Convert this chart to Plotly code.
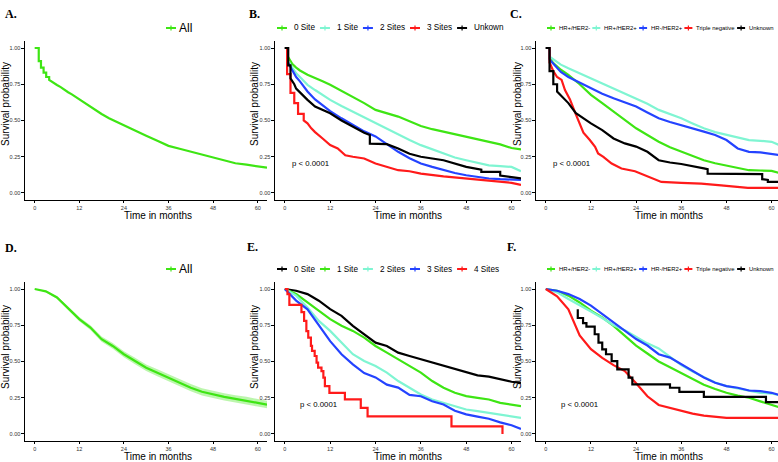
import plotly.graph_objects as go
from plotly.subplots import make_subplots

W, H = 778, 462

GREEN = "#3ee514"
CYAN = "#7ff5d2"
BLUE = "#2443ff"
RED = "#ff1a1a"
BLACK = "#000000"

# ---- A: all patients (cohort 1)
a_month = [0, 1.1, 1.1, 1.7, 1.7, 2.4, 2.4, 3.1, 3.1, 3.9, 3.9, 5, 6, 7, 8, 9, 10,
           12, 14, 16, 18, 20, 22, 24, 27, 30, 33, 36, 39, 42, 45, 48, 51, 54, 57, 60, 62.5]
a_surv = [1, 1, 0.91, 0.91, 0.865, 0.865, 0.83, 0.83, 0.80, 0.80, 0.78, 0.76, 0.745, 0.73, 0.71, 0.695, 0.68,
          0.645, 0.61, 0.575, 0.545, 0.515, 0.49, 0.465, 0.43, 0.395, 0.36, 0.325, 0.305, 0.285, 0.265,
          0.245, 0.225, 0.205, 0.195, 0.185, 0.175]

# ---- B: number of metastatic sites (cohort 1)
b_month = [0, 0.6, 0.6, 1, 2, 3, 4, 6, 8, 10, 12, 15, 18, 21, 24, 27, 30, 33, 36, 39, 42, 45, 48, 51, 54, 57, 60, 62.5]
b_site0 = [1, 1, 0.95, 0.935, 0.89, 0.865, 0.845, 0.815, 0.79, 0.77, 0.746, 0.705, 0.665, 0.62, 0.573, 0.55,
           0.527, 0.495, 0.462, 0.44, 0.423, 0.405, 0.388, 0.37, 0.353, 0.335, 0.31, 0.30]
b_site1 = [1, 1, 0.92, 0.905, 0.86, 0.825, 0.80, 0.746, 0.71, 0.675, 0.642, 0.60, 0.561, 0.52, 0.48, 0.44,
           0.40, 0.365, 0.33, 0.30, 0.27, 0.245, 0.226, 0.21, 0.19, 0.185, 0.18, 0.15]
b_site2 = [1, 1, 0.91, 0.89, 0.84, 0.80, 0.77, 0.70, 0.645, 0.605, 0.565, 0.515, 0.469, 0.425, 0.39, 0.335,
           0.284, 0.24, 0.203, 0.18, 0.157, 0.138, 0.122, 0.11, 0.10, 0.095, 0.092, 0.09]
b_site3_month = [0, 0.6, 0.6, 1.5, 1.5, 2.5, 2.5, 3.5, 3.5, 5, 5, 6, 7, 8, 10, 12, 14, 16, 18, 21, 24, 27,
                 30, 33, 36, 42, 48, 54, 57, 60, 62.5]
b_site3 = [1, 1, 0.82, 0.82, 0.69, 0.69, 0.62, 0.62, 0.545, 0.545, 0.50, 0.48, 0.446, 0.42, 0.376, 0.33,
           0.307, 0.26, 0.25, 0.238, 0.203, 0.18, 0.157, 0.15, 0.134, 0.115, 0.10, 0.088, 0.08, 0.07, 0.055]
b_unk_month = [0, 0.9, 0.9, 1.5, 1.5, 2.5, 3, 5, 6, 8, 10, 12, 15, 18, 21, 22.5, 22.5, 27, 30, 33, 36, 42,
               48, 52, 52, 57, 57, 62.5]
b_unk = [1, 1, 0.88, 0.88, 0.79, 0.75, 0.72, 0.665, 0.642, 0.596, 0.575, 0.55, 0.50, 0.457, 0.415, 0.40,
         0.34, 0.337, 0.307, 0.27, 0.25, 0.226, 0.18, 0.16, 0.145, 0.145, 0.12, 0.10]

# ---- C: molecular subtype (cohort 1)
c_month = [0, 1, 1, 2, 4, 6, 9, 12, 15, 18, 21, 24, 27, 30, 33, 36, 39, 42, 45, 48, 51, 54, 57, 60, 62.5]
c_hrp_her2n = [1, 1, 0.93, 0.896, 0.85, 0.815, 0.75, 0.677, 0.62, 0.561, 0.50, 0.446, 0.40, 0.353, 0.315,
               0.284, 0.255, 0.226, 0.205, 0.19, 0.175, 0.157, 0.155, 0.152, 0.134]
c_hrp_her2p = [1, 1, 0.94, 0.92, 0.885, 0.86, 0.825, 0.79, 0.755, 0.72, 0.69, 0.653, 0.615, 0.573, 0.545,
               0.515, 0.48, 0.446, 0.42, 0.40, 0.38, 0.365, 0.36, 0.353, 0.326]
c_hrn_her2p = [1, 1, 0.92, 0.89, 0.835, 0.80, 0.76, 0.72, 0.685, 0.653, 0.625, 0.596, 0.555, 0.515, 0.49,
               0.469, 0.445, 0.423, 0.40, 0.365, 0.307, 0.284, 0.28, 0.272, 0.26]
c_tn_month = [0, 1, 1, 2, 3, 4.2, 5.1, 6.4, 7.8, 9.1, 10, 11.7, 13.1, 13.9, 15.3, 17.5, 20.1, 23.7, 27.2,
              30.7, 36, 41.3, 46.6, 53.7, 62.5]
c_tn = [1, 1, 0.90, 0.84, 0.80, 0.78, 0.71, 0.647, 0.554, 0.473, 0.416, 0.365, 0.319, 0.273, 0.249, 0.203,
        0.169, 0.15, 0.111, 0.076, 0.069, 0.065, 0.053, 0.035, 0.035]
c_unk_month = [0, 1, 1, 2, 2, 3, 3, 5, 6, 8, 10, 12, 15, 18, 21, 24, 27, 30, 33, 36, 42, 43, 43, 57.5, 57.5,
               59, 59, 62.5]
c_unk = [1, 1, 0.84, 0.84, 0.75, 0.75, 0.70, 0.642, 0.62, 0.55, 0.515, 0.48, 0.434, 0.376, 0.342, 0.32,
         0.284, 0.226, 0.21, 0.20, 0.17, 0.165, 0.134, 0.13, 0.095, 0.09, 0.076, 0.076]

# ---- D: all patients (cohort 2), with 95% CI
d_month = [0, 3, 6, 9, 12, 15, 18, 21, 24, 27, 30, 33, 36, 39, 42, 45, 48, 51, 54, 57, 60, 62.5]
d_surv = [1.0, 0.984, 0.942, 0.868, 0.792, 0.734, 0.654, 0.607, 0.55, 0.503, 0.457, 0.423, 0.388, 0.353,
          0.319, 0.291, 0.272, 0.256, 0.242, 0.231, 0.215, 0.203]
d_lo = [1.0, 0.978, 0.932, 0.855, 0.778, 0.718, 0.636, 0.587, 0.530, 0.481, 0.434, 0.399, 0.364, 0.328,
        0.294, 0.266, 0.247, 0.231, 0.217, 0.205, 0.189, 0.177]
d_hi = [1.0, 0.99, 0.952, 0.881, 0.806, 0.75, 0.672, 0.627, 0.57, 0.525, 0.48, 0.447, 0.412, 0.378, 0.344,
        0.316, 0.297, 0.281, 0.267, 0.257, 0.241, 0.229]

# ---- E: number of metastatic sites (cohort 2)
e_month = [0, 3, 6, 9, 12, 15, 18, 21, 24, 27, 30, 33, 36, 39, 42, 45, 48, 51, 54, 57, 60, 62.5]
e_site0 = [1, 0.988, 0.965, 0.919, 0.861, 0.815, 0.746, 0.688, 0.63, 0.607, 0.561, 0.538, 0.515, 0.492,
           0.469, 0.446, 0.423, 0.404, 0.395, 0.376, 0.36, 0.353]
e_site1 = [1, 0.965, 0.907, 0.85, 0.792, 0.746, 0.711, 0.665, 0.607, 0.561, 0.515, 0.469, 0.423, 0.365,
           0.319, 0.284, 0.261, 0.249, 0.238, 0.215, 0.203, 0.192]
e_site2 = [1, 0.954, 0.873, 0.78, 0.711, 0.63, 0.55, 0.503, 0.469, 0.423, 0.365, 0.319, 0.272, 0.238,
           0.215, 0.192, 0.169, 0.157, 0.145, 0.134, 0.122, 0.111]
e_site3 = [1, 0.92, 0.86, 0.746, 0.64, 0.55, 0.48, 0.42, 0.39, 0.34, 0.32, 0.27, 0.26, 0.226, 0.203, 0.16,
           0.135, 0.12, 0.105, 0.08, 0.06, 0.035]
e_site4_month = [0, 0.7, 1.2, 4.4, 5.1, 5.7, 6.2, 6.9, 7.2, 7.9, 8.4, 8.8, 9.7, 10.2, 10.6, 11.8, 15.9,
                 20.1, 21.9, 44.1, 57.6]
e_site4 = [1, 0.965, 0.89, 0.84, 0.78, 0.71, 0.665, 0.607, 0.573, 0.538, 0.492, 0.457, 0.434, 0.388, 0.33,
           0.284, 0.238, 0.18, 0.122, 0.053, 0.0]

# ---- F: molecular subtype (cohort 2)
f_month = [0, 3, 6, 9, 12, 15, 18, 21, 24, 27, 30, 33, 36, 39, 42, 45, 48, 51, 54, 57, 60, 62.5]
f_hrp_her2n = [1, 0.988, 0.954, 0.907, 0.85, 0.804, 0.746, 0.68, 0.61, 0.555, 0.50, 0.46, 0.42, 0.38,
               0.34, 0.31, 0.284, 0.265, 0.25, 0.225, 0.20, 0.18]
f_hrp_her2p = [1, 0.977, 0.931, 0.885, 0.845, 0.80, 0.75, 0.715, 0.67, 0.625, 0.59, 0.53, 0.475, 0.43,
               0.39, 0.355, 0.33, 0.314, 0.296, 0.284, 0.279, 0.266]
f_hrn_her2p = [1, 0.988, 0.965, 0.931, 0.885, 0.827, 0.769, 0.711, 0.655, 0.61, 0.55, 0.527, 0.48, 0.434,
               0.39, 0.353, 0.33, 0.319, 0.30, 0.296, 0.284, 0.266]
f_tn = [1, 0.95, 0.86, 0.68, 0.585, 0.525, 0.475, 0.434, 0.35, 0.26, 0.20, 0.18, 0.157, 0.14, 0.127, 0.118,
        0.111, 0.111, 0.111, 0.111, 0.111, 0.111]
f_unk_month = [8.5, 8.5, 9.9, 10.8, 13, 14, 15, 16, 17.5, 19, 22, 23, 33, 35.5, 42, 58.5, 62.5]
f_unk = [0.86, 0.80, 0.765, 0.74, 0.688, 0.63, 0.584, 0.55, 0.503, 0.446, 0.388, 0.342, 0.319, 0.291,
         0.256, 0.22, 0.22]

x_ticks = [0, 12, 24, 36, 48, 60]
y_ticks = [0, 0.25, 0.5, 0.75, 1.0]
y_ticktext = ["0.00", "0.25", "0.50", "0.75", "1.00"]
panel_letters = ["A.", "B.", "C.", "D.", "E.", "F."]
p_text = "p < 0.0001"

sites_b = ["0 Site", "1 Site", "2 Sites", "3 Sites", "Unkown"]
sites_e = ["0 Site", "1 Site", "2 Sites", "3 Sites", "4 Sites"]
subtypes = ["HR+/HER2-", "HR+/HER2+", "HR-/HER2+", "Triple negative", "Unknown"]

panels = [
    dict(curves=[(a_month, a_surv, GREEN, "linear")], names=["All"], colors=[GREEN], pval=None),
    dict(curves=[(b_month, b_site0, GREEN, "linear"), (b_month, b_site1, CYAN, "linear"),
                 (b_month, b_site2, BLUE, "linear"), (b_site3_month, b_site3, RED, "linear"),
                 (b_unk_month, b_unk, BLACK, "linear")],
         names=sites_b, colors=[GREEN, CYAN, BLUE, RED, BLACK], pval=1.5),
    dict(curves=[(c_month, c_hrp_her2n, GREEN, "linear"), (c_month, c_hrp_her2p, CYAN, "linear"),
                 (c_month, c_hrn_her2p, BLUE, "linear"), (c_tn_month, c_tn, RED, "linear"),
                 (c_unk_month, c_unk, BLACK, "linear")],
         names=subtypes, colors=[GREEN, CYAN, BLUE, RED, BLACK], pval=1.5),
    dict(curves=[(d_month, d_surv, GREEN, "linear")], names=["All"], colors=[GREEN], pval=None),
    dict(curves=[(e_month, e_site0, BLACK, "linear"), (e_month, e_site1, GREEN, "linear"),
                 (e_month, e_site2, CYAN, "linear"), (e_month, e_site3, BLUE, "linear"),
                 (e_site4_month, e_site4, RED, "hv")],
         names=sites_e, colors=[BLACK, GREEN, CYAN, BLUE, RED], pval=3.5),
    dict(curves=[(f_month, f_hrp_her2n, GREEN, "linear"), (f_month, f_hrp_her2p, CYAN, "linear"),
                 (f_month, f_hrn_her2p, BLUE, "linear"), (f_month, f_tn, RED, "linear"),
                 (f_unk_month, f_unk, BLACK, "hv")],
         names=subtypes, colors=[GREEN, CYAN, BLUE, RED, BLACK], pval=3.5),
]

# layout in pixels of the 778x462 canvas
col_px = [(25, 267), (275, 521), (536, 778)]
row_px = [(40.75, 199.5), (281.75, 440.5)]
col_xrange = [[-2.6, 62.5], [-2.6, 62.5], [-2.6, 61.7]]
y_range = [-0.045, 1.05]

# legend: start x, font size, symbol length, gap to text, gap after text
legend_style = [
    dict(x=166, size=12, sym=10, gap=2, after=6),
    dict(x=277, size=8.2, sym=10, gap=6, after=6),
    dict(x=547, size=5.9, sym=8, gap=3, after=3),
    dict(x=166, size=12, sym=10, gap=2, after=6),
    dict(x=277, size=8.2, sym=10, gap=6, after=6),
    dict(x=547, size=5.9, sym=8, gap=3, after=3),
]
legend_y = [28, 269]
letter_pos = [(3, 13.5), (247, 13.5), (508, 13.5), (3, 247.5), (245, 247), (505, 246.5)]
ytitle_x = [5, 254, 517]
ytitle_y = [104, 347]
xtitle_x = [158, 408, 669]
xtitle_y = [216, 456]

ARIAL = {" ": 0.278, "S": 0.667, "i": 0.222, "t": 0.278, "e": 0.556, "s": 0.5, "U": 0.722, "n": 0.556,
         "k": 0.5, "o": 0.556, "w": 0.722, "A": 0.667, "l": 0.222, "H": 0.722, "R": 0.722, "E": 0.667,
         "+": 0.584, "-": 0.333, "/": 0.278, "T": 0.611, "r": 0.333, "p": 0.556, "g": 0.556, "a": 0.556,
         "v": 0.5}


def text_width(s, size):
    return sum(ARIAL.get(ch, 0.556) for ch in s) * size


def px(x):
    return x / W


def py(y):
    return 1 - y / H


fig = make_subplots(rows=2, cols=3)

axis_style = dict(showline=True, linecolor="black", linewidth=1.2, ticks="outside", ticklen=2.5,
                  tickwidth=1, tickcolor="black", showgrid=False, zeroline=False,
                  tickfont=dict(size=5.5, color="#333333", family="Liberation Sans"))

for i, panel in enumerate(panels):
    r, c = i // 3 + 1, i % 3 + 1
    x0, x1 = col_px[c - 1]
    y0, y1 = row_px[r - 1]

    if i == 3:
        fig.add_trace(go.Scatter(x=d_month, y=d_lo, mode="lines", line=dict(width=0), hoverinfo="skip",
                                 showlegend=False), row=r, col=c)
        fig.add_trace(go.Scatter(x=d_month, y=d_hi, mode="lines", line=dict(width=0), fill="tonexty",
                                 fillcolor="rgba(62,229,20,0.35)", hoverinfo="skip", showlegend=False),
                      row=r, col=c)

    for (t, s, color, shape), name in zip(panel["curves"], panel["names"]):
        fig.add_trace(go.Scatter(x=t, y=s, mode="lines", name=name, showlegend=False,
                                 line=dict(color=color, width=2.2, shape=shape)), row=r, col=c)

    fig.update_xaxes(domain=[px(x0), px(x1)], range=col_xrange[c - 1], tickvals=x_ticks,
                     **axis_style, row=r, col=c)
    fig.update_yaxes(domain=[py(y1), py(y0)], range=y_range, tickvals=y_ticks, ticktext=y_ticktext,
                     **axis_style, row=r, col=c)

    if panel["pval"] is not None:
        fig.add_annotation(x=panel["pval"], y=0.2, text=p_text, showarrow=False, xanchor="left",
                           yanchor="middle", font=dict(size=7.8, color="black", family="Liberation Sans"),
                           row=r, col=c)

    # panel letter
    lx, ly = letter_pos[i]
    fig.add_annotation(x=px(lx), y=py(ly), xref="paper", yref="paper", text="<b>%s</b>" % panel_letters[i],
                       showarrow=False, xanchor="left", yanchor="middle",
                       font=dict(size=12, color="black", family="Liberation Serif"))

    # axis titles
    fig.add_annotation(x=px(ytitle_x[c - 1]), y=py(ytitle_y[r - 1]), xref="paper", yref="paper",
                       text="Survival probability", textangle=-90, showarrow=False,
                       xanchor="center", yanchor="middle",
                       font=dict(size=10, color="black", family="Liberation Sans"))
    fig.add_annotation(x=px(xtitle_x[c - 1]), y=py(xtitle_y[r - 1]), xref="paper", yref="paper",
                       text="Time in months", showarrow=False, xanchor="center", yanchor="middle",
                       font=dict(size=10, color="black", family="Liberation Sans"))

    # hand drawn legend above the panel (line with a censor tick, then label)
    st = legend_style[i]
    lx = st["x"]
    ly = legend_y[r - 1]
    for name, color in zip(panel["names"], panel["colors"]):
        fig.add_shape(type="line", xref="paper", yref="paper", x0=px(lx), x1=px(lx + st["sym"]),
                      y0=py(ly), y1=py(ly), line=dict(color=color, width=2))
        mid = lx + st["sym"] / 2
        fig.add_shape(type="line", xref="paper", yref="paper", x0=px(mid), x1=px(mid),
                      y0=py(ly - 2.5), y1=py(ly + 2.5), line=dict(color=color, width=1.2))
        tx = lx + st["sym"] + st["gap"]
        fig.add_annotation(x=px(tx), y=py(ly), xref="paper", yref="paper", text=name, showarrow=False,
                           xanchor="left", yanchor="middle", borderpad=0,
                           font=dict(size=st["size"], color="black", family="Liberation Sans"))
        lx = tx + text_width(name, st["size"]) + st["after"]

fig.update_layout(width=W, height=H, margin=dict(l=0, r=0, t=0, b=0), plot_bgcolor="white",
                  paper_bgcolor="white", showlegend=False, font=dict(family="Liberation Sans"))

# the page body has an 8px margin by default; drop it so the figure fills the window
fig.write_html("out.html", config={"displayModeBar": False},
               post_script="document.body.style.margin='0';")
